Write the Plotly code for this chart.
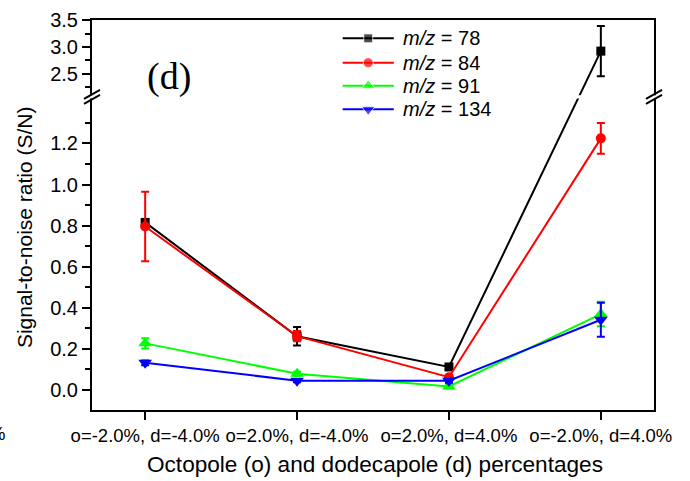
import plotly.graph_objects as go

# ---------------- data ----------------
categories = ["o=-2.0%, d=-4.0%", "o=2.0%, d=-4.0%", "o=2.0%, d=4.0%", "o=-2.0%, d=4.0%"]
x_pos = [0, 1, 2, 3]

series_names = ["<i>m/z</i> = 78", "<i>m/z</i> = 84", "<i>m/z</i> = 91", "<i>m/z</i> = 134"]
mz78 = [0.815, 0.26, 0.11, 2.92]
mz78_err = [0.01, 0.045, 0.01, 0.47]
mz84 = [0.795, 0.26, 0.06, 1.225]
mz84_err = [0.17, 0.025, 0.01, 0.075]
mz91 = [0.225, 0.077, 0.015, 0.368]
mz91_err = [0.025, 0.01, 0.01, 0.06]
mz134 = [0.13, 0.043, 0.043, 0.34]
mz134_err = [0.012, 0.008, 0.01, 0.083]

lower_ticks = [0.0, 0.2, 0.4, 0.6, 0.8, 1.0, 1.2]
upper_ticks = [2.5, 3.0, 3.5]
lower_minor = [0.1, 0.3, 0.5, 0.7, 0.9, 1.1, 1.3]
upper_minor = [2.25, 2.75, 3.25]

colors = ["#000000", "#FF0000", "#00FF00", "#0000FF"]
symbols = ["square", "circle", "triangle-up", "triangle-down"]
msizes = [9, 10, 12, 12]

# ---------------- broken axis mapping ----------------
LOW_MIN, LOW_MAX = -0.1, 1.415
UP_MIN, UP_MAX = 2.11, 3.5
GAP = 0.025
UP_SCALE = 0.26


def disp(v):
    if v <= LOW_MAX:
        return v
    return LOW_MAX + GAP + (v - UP_MIN) * UP_SCALE


Y0 = LOW_MIN
Y1 = disp(UP_MAX) + 0.001


def to_paper(d):
    return (d - Y0) / (Y1 - Y0)


FONT = "Liberation Sans, Arial, sans-serif"

fig = go.Figure()

all_vals = [mz78, mz84, mz91, mz134]
all_errs = [mz78_err, mz84_err, mz91_err, mz134_err]

for vals, errs, c, s, ms, name in zip(all_vals, all_errs, colors, symbols, msizes, series_names):
    yd = [disp(v) for v in vals]
    up = [disp(v + e) - disp(v) for v, e in zip(vals, errs)]
    dn = [disp(v) - disp(v - e) for v, e in zip(vals, errs)]
    fig.add_trace(go.Scatter(
        x=x_pos, y=yd, mode="lines+markers", name=name, showlegend=False,
        line=dict(color=c, width=2),
        marker=dict(symbol=s, size=ms, color=c),
        error_y=dict(type="data", array=up, arrayminus=dn, symmetric=False,
                     color=c, thickness=2, width=4),
    ))

# ---------------- custom legend (overlay axes) ----------------
leg_x0, leg_x1 = 0.446, 0.537
leg_text_x = 0.5498
leg_rows = [0.953, 0.8905, 0.8315, 0.771]
for c, s, ms, name, ly in zip(colors, symbols, msizes, series_names, leg_rows):
    fig.add_trace(go.Scatter(
        x=[leg_x0, (leg_x0 + leg_x1) / 2, leg_x1], y=[ly, ly, ly],
        xaxis="x2", yaxis="y2", mode="lines+markers", showlegend=False,
        hoverinfo="skip",
        line=dict(color=c, width=2),
        marker=dict(symbol=s, size=[0, ms, 0], color=c),
    ))
    fig.add_annotation(x=leg_text_x, y=ly, xref="paper", yref="paper",
                       text=name, showarrow=False, xanchor="left", yanchor="middle",
                       font=dict(family=FONT, size=20, color="black"))

# ---------------- axes ----------------
fig.update_layout(
    width=690, height=481,
    margin=dict(l=92, r=36, t=20, b=71),
    paper_bgcolor="white", plot_bgcolor="white",
    font=dict(family=FONT, color="black"),
    xaxis=dict(
        range=[-0.35, 3.35], tickmode="array", tickvals=x_pos, ticktext=categories,
        tickangle=0, automargin=False,
        showline=True, linewidth=2, linecolor="black", mirror=True,
        ticks="outside", ticklen=8, tickwidth=2, tickcolor="black",
        showgrid=False, zeroline=False,
        tickfont=dict(family=FONT, size=18.5, color="black"),
    ),
    yaxis=dict(
        range=[Y0, Y1], tickmode="array", automargin=False,
        tickvals=[disp(v) for v in lower_ticks + upper_ticks],
        ticktext=[f"{v:.1f}" for v in lower_ticks + upper_ticks],
        showline=True, linewidth=2, linecolor="black", mirror=True,
        ticks="outside", ticklen=8, tickwidth=2, tickcolor="black",
        showgrid=False, zeroline=False,
        tickfont=dict(family=FONT, size=20, color="black"),
        minor=dict(tickmode="array", tickvals=[disp(v) for v in lower_minor + upper_minor],
                   ticks="outside", ticklen=5, tickwidth=2, tickcolor="black", showgrid=False),
    ),
    xaxis2=dict(overlaying="x", anchor="y2", range=[0, 1], visible=False),
    yaxis2=dict(overlaying="y", anchor="x2", range=[0, 1], visible=False),
)

# ---------------- axis break ----------------
pb_lo = to_paper(LOW_MAX)
pb_hi = to_paper(LOW_MAX + GAP)
fig.add_shape(type="rect", xref="paper", yref="paper", x0=-0.03, x1=1.03,
              y0=to_paper(LOW_MAX + 0.005), y1=to_paper(LOW_MAX + GAP - 0.005),
              fillcolor="white", line=dict(width=0), layer="above")
for xa in [0, 1]:
    for ya in [pb_lo, pb_hi]:
        fig.add_shape(type="line", xref="paper", yref="paper",
                      xsizemode="pixel", ysizemode="pixel",
                      xanchor=xa, yanchor=ya,
                      x0=-8, x1=8, y0=-4.5, y1=4.5,
                      line=dict(color="black", width=2), layer="above")

# ---------------- texts ----------------
fig.add_annotation(x=0.137, y=0.856, xref="paper", yref="paper", text="(d)",
                   showarrow=False, xanchor="center", yanchor="middle",
                   font=dict(family="Liberation Serif, Times New Roman, serif", size=38, color="black"))
fig.add_annotation(x=0.504, y=-0.141, xref="paper", yref="paper",
                   text="Octopole (o) and dodecapole (d) percentages",
                   showarrow=False, xanchor="center", yanchor="middle",
                   font=dict(family=FONT, size=22.6, color="black"))
fig.add_annotation(x=-0.121, y=0.469, xref="paper", yref="paper",
                   text="Signal-to-noise ratio (S/N)", textangle=-90,
                   showarrow=False, xanchor="center", yanchor="middle",
                   font=dict(family=FONT, size=21, color="black"))
# clipped tick label remnant at the far left
fig.add_annotation(x=(7 - 92) / 562, y=(410 - 433) / 390, xref="paper", yref="paper",
                   text="%", showarrow=False, xanchor="right", yanchor="middle",
                   font=dict(family=FONT, size=18.5, color="black"))

fig.write_html("out.html")
